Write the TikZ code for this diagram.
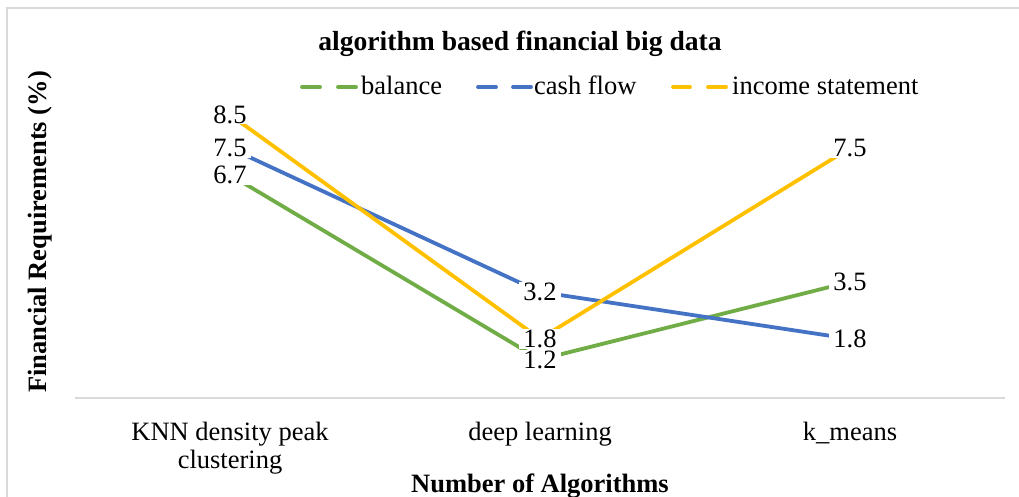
\documentclass[tikz,border=0pt]{standalone}
\usepackage{fontspec}
\setmainfont{Liberation Serif}
\definecolor{cgreen}{HTML}{70AD47}
\definecolor{cblue}{HTML}{4472C4}
\definecolor{corange}{HTML}{FFC000}
\definecolor{cgrid}{HTML}{D9D9D9}
\begin{document}
\begin{tikzpicture}[x=1pt,y=-1pt,
  txt/.style={font=\fontsize{26.5}{28}\selectfont, inner sep=0pt},
  btxt/.style={font=\fontsize{26.5}{28}\selectfont\bfseries, inner sep=0pt},
  ttxt/.style={font=\fontsize{27.6}{29}\selectfont\bfseries, inner sep=0pt},
  dlab/.style={font=\fontsize{26.5}{28}\selectfont, fill=white, inner xsep=4pt, inner ysep=0.8pt},
  ser/.style={line width=3.8pt, line cap=round},
  legline/.style={line width=3.8pt, line cap=round},
  frameline/.style={draw=cgrid, line width=1.5pt},
  axisline/.style={draw=cgrid, line width=1.5pt}]
\useasboundingbox (0,0) rectangle (1019,497);
% chart frame
\coordinate (fTL) at (7,8);
\coordinate (fTR) at (1025,8);
\coordinate (fBL) at (7,505);
\draw[frameline] (fBL) -- (fTL) -- (fTR);
% axis
\coordinate (axL) at (75,398);
\coordinate (axR) at (1005,398);
\draw[axisline] (axL) -- (axR);
% title
\node[ttxt, anchor=base] (title) at (520,51) {algorithm based financial big data};
% legend
\coordinate (lg1a) at (302,87); \coordinate (lg1b) at (320,87);
\coordinate (lg1c) at (338,87); \coordinate (lg1d) at (356,87);
\draw[legline, cgreen] (lg1a) -- (lg1b); \draw[legline, cgreen] (lg1c) -- (lg1d);
\node[txt, anchor=base west] (leg1) at (361,95) {balance};
\coordinate (lg2a) at (478,87); \coordinate (lg2b) at (496,87);
\coordinate (lg2c) at (513,87); \coordinate (lg2d) at (531,87);
\draw[legline, cblue] (lg2a) -- (lg2b); \draw[legline, cblue] (lg2c) -- (lg2d);
\node[txt, anchor=base west] (leg2) at (534,95) {cash flow};
\coordinate (lg3a) at (673,87); \coordinate (lg3b) at (690,87);
\coordinate (lg3c) at (708,87); \coordinate (lg3d) at (726,87);
\draw[legline, corange] (lg3a) -- (lg3b); \draw[legline, corange] (lg3c) -- (lg3d);
\node[txt, anchor=base west] (leg3) at (732,95) {income statement};
% data points
\coordinate (g1) at (230,174.9); \coordinate (g2) at (540,359.5); \coordinate (g3) at (850,281.9);
\coordinate (b1) at (230,148.1); \coordinate (b2) at (540,292.0); \coordinate (b3) at (850,338.8);
\coordinate (o1) at (230,114.7); \coordinate (o2) at (540,338.8); \coordinate (o3) at (850,148.1);
\draw[ser, cgreen] (g1) -- (g2) -- (g3);
\draw[ser, cblue] (b1) -- (b2) -- (b3);
\draw[ser, corange] (o1) -- (o2) -- (o3);
% data labels
\node[dlab] (lg1) at (g1) {6.7};
\node[dlab] (lg2) at (g2) {1.2};
\node[dlab] (lg3) at (g3) {3.5};
\node[dlab] (lb1) at (b1) {7.5};
\node[dlab] (lb2) at (b2) {3.2};
\node[dlab] (lb3) at (b3) {1.8};
\node[dlab] (lo1) at (o1) {8.5};
\node[dlab] (lo2) at (o2) {1.8};
\node[dlab] (lo3) at (o3) {7.5};
% categories
\node[txt, anchor=base] (c1) at (230,440) {KNN density peak};
\node[txt, anchor=base] (c1b) at (230,468) {clustering};
\node[txt, anchor=base] (c2) at (540,440) {deep learning};
\node[txt, anchor=base] (c3) at (850,440) {k\_means};
% axis titles
\node[btxt, anchor=base] (xt) at (540,492) {Number of Algorithms};
\node[btxt, anchor=base, rotate=90] (yt) at (46,232) {Financial Requirements (\%)};
\end{tikzpicture}
\end{document}
